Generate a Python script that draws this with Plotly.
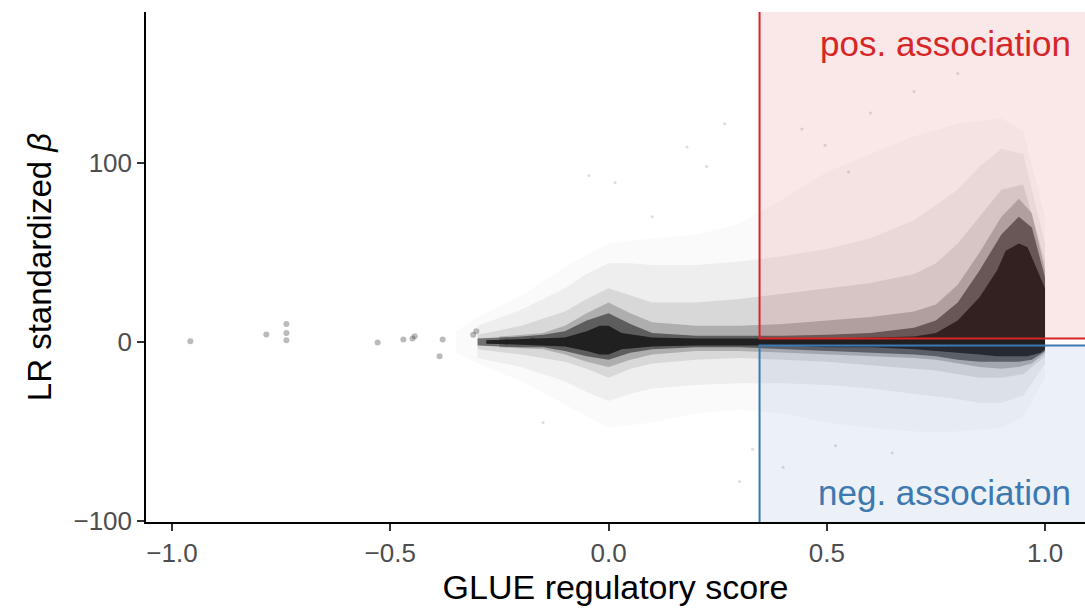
import plotly.graph_objects as go

# ---------------- data ----------------
# density envelopes of the point cloud (GLUE score vs LR standardized beta)
# layer 1: very sparse points
l1_x = [-0.35, -0.30, -0.20, -0.10, 0.00, 0.10, 0.20, 0.30, 0.40, 0.50, 0.60, 0.70, 0.80, 0.90, 0.95, 1.00]
l1_up = [6, 14, 26, 42, 55, 58, 60, 66, 80, 95, 105, 115, 122, 125, 118, 70]
l1_lo = [-6, -12, -22, -35, -48, -45, -40, -38, -40, -45, -48, -50, -50, -48, -42, -20]
# layer 2: sparse speckle
l2_x = [-0.30, -0.20, -0.10, -0.05, 0.00, 0.05, 0.10, 0.20, 0.30, 0.40, 0.50, 0.60, 0.70, 0.80, 0.85, 0.90, 0.95, 1.00]
l2_up = [9, 18, 30, 38, 44, 44, 43, 43, 45, 48, 52, 58, 68, 85, 98, 108, 105, 55]
l2_lo = [-9, -14, -22, -28, -33, -29, -26, -24, -23, -23, -24, -26, -29, -32, -34, -34, -30, -12]
# layer 3: medium density
l3_x = [-0.30, -0.20, -0.10, -0.05, 0.00, 0.05, 0.10, 0.20, 0.30, 0.40, 0.50, 0.60, 0.70, 0.75, 0.80, 0.85, 0.90, 0.95, 1.00]
l3_up = [4, 9, 17, 24, 30, 26, 22, 22, 24, 27, 30, 33, 38, 44, 55, 70, 85, 88, 45]
l3_lo = [-4, -7, -11, -15, -20, -15, -12, -10, -9, -10, -11, -13, -15, -16, -18, -20, -20, -18, -8]
# layer 3b: medium-dense
l3b_x = [-0.25, -0.15, -0.10, -0.05, 0.00, 0.05, 0.10, 0.20, 0.30, 0.40, 0.50, 0.60, 0.70, 0.75, 0.80, 0.85, 0.90, 0.94, 0.97, 1.00]
l3b_up = [3, 5, 9, 16, 22, 16, 11, 9, 9, 10, 12, 14, 17, 21, 32, 50, 70, 80, 72, 40]
l3b_lo = [-3, -4, -7, -11, -14, -10, -7, -5, -5, -6, -7, -8, -9, -10, -12, -14, -15, -14, -12, -6]
# layer 4: dense
l4_x = [-0.30, -0.20, -0.15, -0.10, -0.05, 0.00, 0.05, 0.10, 0.20, 0.30, 0.40, 0.50, 0.60, 0.70, 0.75, 0.80, 0.85, 0.90, 0.94, 0.97, 1.00]
l4_up = [2, 3, 4, 6, 12, 16, 10, 5, 3.5, 3.5, 3.5, 4, 5, 8, 12, 22, 40, 60, 70, 64, 36]
l4_lo = [-2, -3, -3, -5, -8, -10, -6, -4, -3, -3, -4, -5, -6, -7, -8, -10, -11, -11, -11, -10, -5]
# layer 5: saturated core
l5_x = [-0.28, -0.20, -0.10, -0.05, -0.02, 0.00, 0.03, 0.10, 0.20, 0.30, 0.40, 0.50, 0.60, 0.70, 0.75, 0.80, 0.85, 0.89, 0.91, 0.94, 0.96, 0.975, 0.99, 1.00]
l5_up = [1, 1.5, 2.5, 6, 9, 9, 5, 2.5, 2, 2, 2, 2, 2.5, 3, 5, 12, 25, 40, 51, 55, 53, 44, 35, 30]
l5_lo = [-1, -1.5, -2.5, -5, -7, -7, -4, -2.5, -2, -2, -2, -3, -3, -4, -5, -6, -7, -8, -8, -8, -8, -7, -6, -4]

# isolated small clusters on the left
cl_x = [-0.958, -0.784, -0.738, -0.738, -0.738, -0.529, -0.470, -0.444, -0.449, -0.380, -0.387, -0.310, -0.303, -0.234, -0.174]
cl_y = [0.4, 4.2, 10, 5, 1, -0.3, 1.4, 3.2, 2.0, 1.4, -8, 4, 6, 0, 1]

# a few isolated outlying points
sp_x = [0.266, 0.18, -0.045, 0.443, 0.496, 0.015, 0.225, 0.60, 0.70, 0.33, 0.52, 0.40, -0.15, 0.10, 0.55, 0.80, 0.30, 0.65]
sp_y = [122, 109, 93, 119, 110, 89, 98, 128, 140, -60, -58, -70, -45, 70, 95, 150, -78, -62]

x_ticks = [-1.0, -0.5, 0.0, 0.5, 1.0]
x_ticktext = ["\u22121.0", "\u22120.5", "0.0", "0.5", "1.0"]
y_ticks = [-100, 0, 100]
y_ticktext = ["\u2212100", "0", "100"]

pos_lo = 2      # lower bound of positive association box
neg_hi = -2     # upper bound of negative association box
box_x0 = 0.346  # GLUE score cutoff

# ---------------- figure ----------------
fig = go.Figure()

layers = [
    (l1_x, l1_up, l1_lo, 0.025),
    (l2_x, l2_up, l2_lo, 0.05),
    (l3_x, l3_up, l3_lo, 0.10),
    (l3b_x, l3b_up, l3b_lo, 0.22),
    (l4_x, l4_up, l4_lo, 0.55),
    (l5_x, l5_up, l5_lo, 0.95),
]
for xs, up, lo, op in layers:
    fig.add_trace(go.Scatter(
        x=list(xs) + list(xs)[::-1],
        y=list(up) + list(lo)[::-1],
        fill="toself", mode="lines", line=dict(width=0),
        fillcolor="rgb(28,28,28)", opacity=op,
        hoverinfo="skip", showlegend=False))

fig.add_trace(go.Scatter(x=cl_x, y=cl_y, mode="markers",
                         marker=dict(size=6, color="rgb(30,30,30)", opacity=0.3),
                         showlegend=False, hoverinfo="skip"))
fig.add_trace(go.Scatter(x=sp_x, y=sp_y, mode="markers",
                         marker=dict(size=3, color="rgb(30,30,30)", opacity=0.15),
                         showlegend=False, hoverinfo="skip"))

fig.add_shape(type="rect", xref="x", yref="y", x0=box_x0, x1=1.3, y0=pos_lo, y1=300,
              fillcolor="rgba(214,39,40,0.11)", line=dict(color="#d62728", width=2), layer="above")
fig.add_shape(type="rect", xref="x", yref="y", x0=box_x0, x1=1.3, y0=-200, y1=neg_hi,
              fillcolor="rgba(70,130,180,0.11)", line=dict(color="#3d78b0", width=2), layer="above")

fig.add_annotation(x=1.063, y=167, xref="x", yref="y", text="pos. association",
                   showarrow=False, xanchor="right", yanchor="middle",
                   font=dict(size=35, color="#d62728"))
fig.add_annotation(x=1.063, y=-84, xref="x", yref="y", text="neg. association",
                   showarrow=False, xanchor="right", yanchor="middle",
                   font=dict(size=35, color="#3d78b0"))

fig.update_layout(
    width=1085, height=610,
    margin=dict(l=146, r=0, t=12, b=88),
    plot_bgcolor="white", paper_bgcolor="white",
    font=dict(family="Liberation Sans, Arial, sans-serif", color="black"),
    showlegend=False,
)
fig.update_xaxes(range=[-1.0596, 1.0916], tickvals=x_ticks, ticktext=x_ticktext,
                 showgrid=False, zeroline=False, showline=True, linecolor="black", linewidth=1.5,
                 ticks="outside", ticklen=7, tickwidth=1.5, tickcolor="#333333",
                 tickfont=dict(size=26, color="#4d4d4d"),
                 title=dict(text="GLUE regulatory score", font=dict(size=34, color="black"), standoff=6))
fig.update_yaxes(range=[-100.6, 184.4], tickvals=y_ticks, ticktext=y_ticktext,
                 showgrid=False, zeroline=False, showline=True, linecolor="black", linewidth=1.5,
                 ticks="outside", ticklen=7, tickwidth=1.5, tickcolor="#333333",
                 tickfont=dict(size=26, color="#4d4d4d"),
                 title=dict(text="LR standardized <i>\u03b2</i>", font=dict(size=33, color="black"), standoff=12))

fig.write_html("out.html")
